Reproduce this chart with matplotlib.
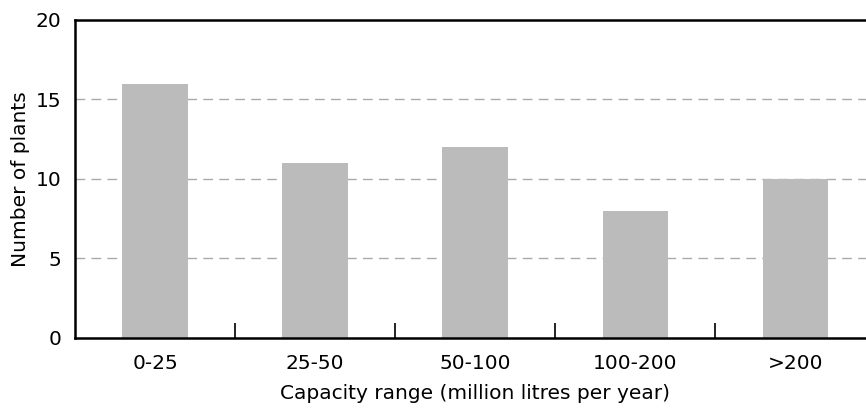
import matplotlib
matplotlib.use("Agg")
import matplotlib.pyplot as plt
import numpy as np

categories = ["0-25", "25-50", "50-100", "100-200", ">200"]
plants = [16, 11, 12, 8, 10]
y_ticks = [0, 5, 10, 15, 20]

plt.rcParams["font.family"] = ["DejaVu Sans"]

fig = plt.figure(figsize=(8.66, 4.11), dpi=100)
ax = fig.add_axes([75 / 866, 1 - 337.7 / 411, 800.5 / 866, (337.7 - 20) / 411])

x = np.arange(len(categories))
ax.bar(x, plants, width=0.41, color="#bbbbbb", zorder=2)

ax.set_xlim(-0.5, len(categories) - 0.5)
ax.set_ylim(0, 20)

# ---- gridlines at 5, 10, 15 ----
for y in y_ticks[1:-1]:
    ax.axhline(y, color="#aaaaaa", linestyle=(0, (7, 4.5)), linewidth=1, zorder=1)

# ---- ticks ----
ax.set_xticks(x)
ax.set_xticklabels(categories, fontsize=14.5)
ax.set_xticks(x[:-1] + 0.5, minor=True)
ax.tick_params(axis="x", which="major", length=0, pad=12)
ax.tick_params(axis="x", which="minor", direction="in", length=11, width=1.2)
ax.set_yticks(y_ticks)
ax.set_yticklabels([str(v) for v in y_ticks], fontsize=14.5)
ax.tick_params(axis="y", length=0, pad=10)

for side in ["left", "bottom", "top"]:
    ax.spines[side].set_linewidth(1.8)
ax.spines["right"].set_visible(False)

ax.set_xlabel("Capacity range (million litres per year)", fontsize=14.5, labelpad=8)
ax.set_ylabel("Number of plants", fontsize=14.5, labelpad=4)

fig.savefig("out.png", dpi=100)
